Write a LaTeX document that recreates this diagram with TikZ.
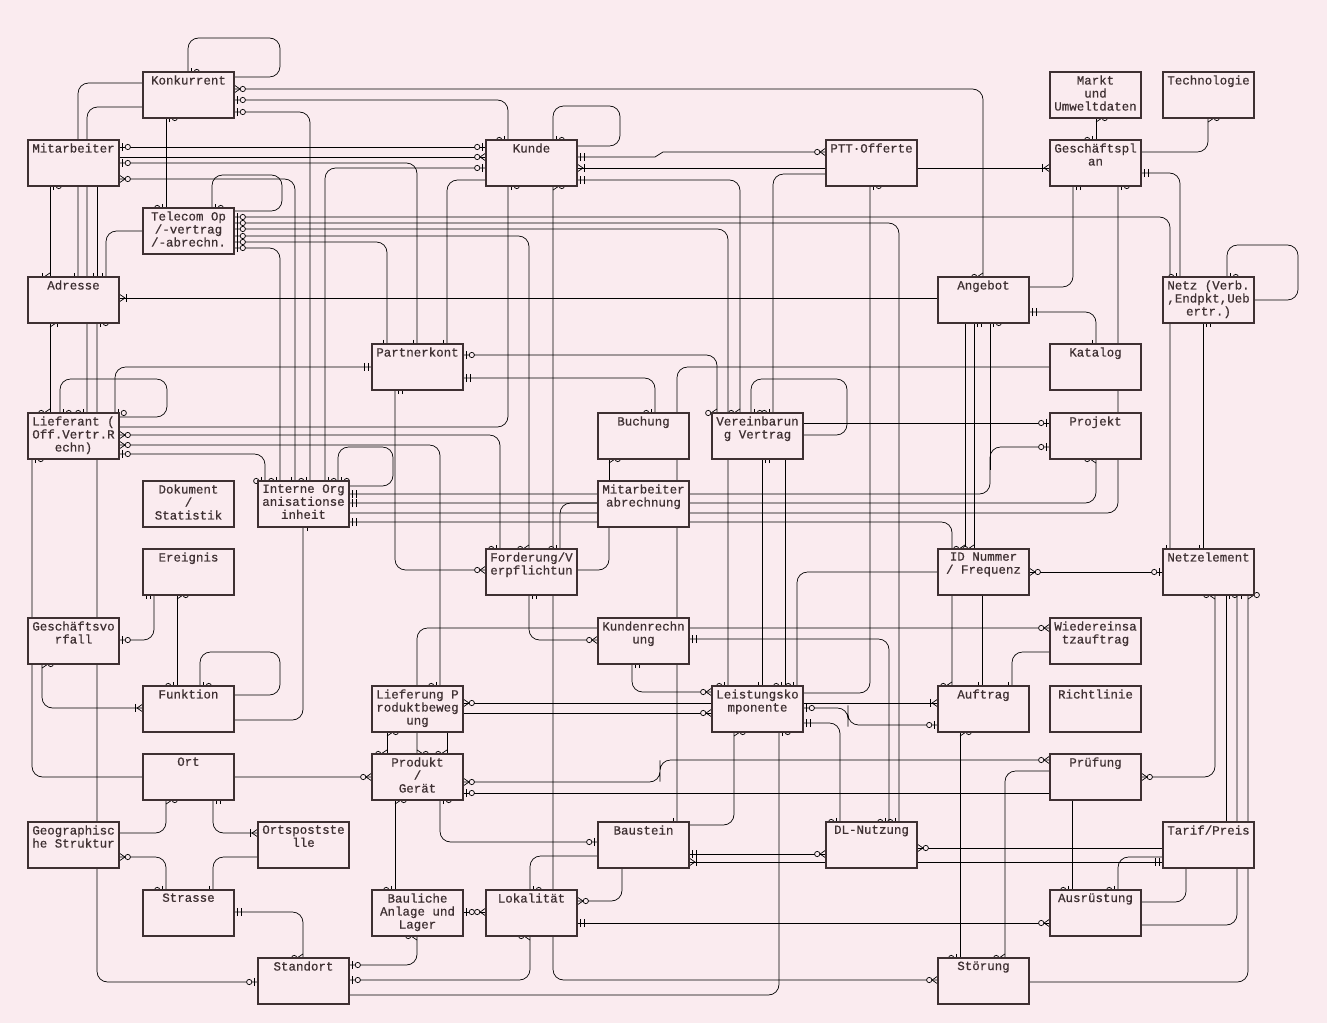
\documentclass[tikz,border=0pt]{standalone}
\usepackage{fontspec}
\setmainfont[FakeBold=0.6]{Liberation Mono}
\usetikzlibrary{decorations.markings}
\definecolor{bg}{RGB}{250,235,239}
\definecolor{ink}{RGB}{62,48,50}
\pgfdeclarelayer{lines}
\pgfsetlayers{lines,main}
\tikzset{
  zm/.pic={\draw[sharp corners] (0,2.3pt)--(-3.4pt,0)--(0,-2.3pt); \draw[fill=bg] (-5pt,0) circle[radius=1.5pt];},
  zo/.pic={\draw (-2.1pt,2.3pt)--(-2.1pt,-2.3pt); \draw[fill=bg] (-5pt,0) circle[radius=1.5pt];},
  oo/.pic={\draw (-2.1pt,2.3pt)--(-2.1pt,-2.3pt); \draw (-4.1pt,2.3pt)--(-4.1pt,-2.3pt);},
  om/.pic={\draw[sharp corners] (0,2.3pt)--(-3.4pt,0)--(0,-2.3pt); \draw (-4.1pt,2.3pt)--(-4.1pt,-2.3pt);},
  one/.pic={\draw (-2.3pt,2.3pt)--(-2.3pt,-2.3pt);},
  st/.style={postaction={decorate,decoration={markings,mark=at position 0 with {\pic[rotate=180] at (0,0) {#1};}}}},
  en/.style={postaction={decorate,decoration={markings,mark=at position 1 with {\pic at (0,0) {#1};}}}},
  box/.style={draw, fill=bg, line width=0.85pt, minimum width=51.8pt, minimum height=26.2pt, inner sep=0pt, outer sep=0pt},
  lbl/.style={anchor=north, align=center, inner sep=1.6pt, font=\fontsize{7.1}{7.4}\selectfont},
  cn/.style={rounded corners=6pt},
}
\newcommand\erbox[4]{\node[box,label={[lbl]north:{#4}}] (#1) at (#2,#3) {};}
\begin{document}
\begin{tikzpicture}[x=0.02cm,y=-0.02cm,color=ink,line width=0.75pt]
\useasboundingbox (0,0) rectangle (1327,1023);
% boxes
\erbox{konk}{188.5}{95}{Konkurrent}
\erbox{mitarb}{73.5}{163}{Mitarbeiter}
\erbox{kunde}{531.5}{163}{Kunde}
\erbox{ptt}{871.5}{163}{PTT·Offerte}
\erbox{markt}{1095.5}{95}{Markt\\und\\Umweltdaten}
\erbox{tech}{1208.5}{95}{Technologie}
\erbox{gplan}{1095.5}{163}{Geschäftspl\\an}
\erbox{telecom}{188.5}{231}{Telecom Op\\/-vertrag\\/-abrechn.}
\erbox{adresse}{73.5}{300}{Adresse}
\erbox{angebot}{983.5}{300}{Angebot}
\erbox{netz}{1208.5}{300}{Netz (Verb.\\,Endpkt,Ueb\\ertr.)}
\erbox{partner}{417.5}{367}{Partnerkont}
\erbox{katalog}{1095.5}{367}{Katalog}
\erbox{lieferant}{73.5}{436}{Lieferant (\\Off.Vertr.R\\echn)}
\erbox{buchung}{643.5}{436}{Buchung}
\erbox{vereinb}{757.5}{436}{Vereinbarun\\g Vertrag}
\erbox{projekt}{1095.5}{436}{Projekt}
\erbox{dokument}{188.5}{504}{Dokument\\/\\Statistik}
\erbox{interne}{303.5}{504}{Interne Org\\anisationse\\inheit}
\erbox{mabr}{643.5}{504}{Mitarbeiter\\abrechnung}
\erbox{ereignis}{188.5}{572}{Ereignis}
\erbox{forderung}{531.5}{572}{Forderung/V\\erpflichtun}
\erbox{idnr}{983.5}{572}{ID Nummer\\/ Frequenz}
\erbox{netzel}{1208.5}{572}{Netzelement}
\erbox{gvorfall}{73.5}{641}{Geschäftsvo\\rfall}
\erbox{kundenr}{643.5}{641}{Kundenrechn\\ung}
\erbox{wieder}{1095.5}{641}{Wiedereinsa\\tzauftrag}
\erbox{funktion}{188.5}{709}{Funktion}
\erbox{lieferung}{417.5}{709}{Lieferung P\\roduktbeweg\\ung}
\erbox{leistung}{757.5}{709}{Leistungsko\\mponente}
\erbox{auftrag}{983.5}{709}{Auftrag}
\erbox{richtlinie}{1095.5}{709}{Richtlinie}
\erbox{ort}{188.5}{777}{Ort}
\erbox{produkt}{417.5}{777}{Produkt\\/\\Gerät}
\erbox{pruefung}{1095.5}{777}{Prüfung}
\erbox{geo}{73.5}{845}{Geographisc\\he Struktur}
\erbox{ortspost}{303.5}{845}{Ortspostste\\lle}
\erbox{baustein}{643.5}{845}{Baustein}
\erbox{dl}{871.5}{845}{DL-Nutzung}
\erbox{tarif}{1208.5}{845}{Tarif/Preis}
\erbox{strasse}{188.5}{913}{Strasse}
\erbox{bauliche}{417.5}{913}{Bauliche\\Anlage und\\Lager}
\erbox{lokal}{531.5}{913}{Lokalität}
\erbox{ausr}{1095.5}{913}{Ausrüstung}
\erbox{standort}{303.5}{981}{Standort}
\erbox{stoerung}{983.5}{981}{Störung}
\begin{pgfonlayer}{lines}
\fill[bg] (0,0) rectangle (1327,1023);
\begin{scope}[cn]
% Konkurrent
\draw[st=zo,en=zm] (konk.north -| 188,0) |- (280,38) |- (konk.east |- 0,77);
\draw[st=zm,en=zm] (konk.east |- 0,89) -| (angebot.north -| 983,0);
\draw[st=zo,en=zo] (konk.east |- 0,100) -| (kunde.north -| 508,0);
\draw[st=zo,en=zo] (konk.east |- 0,112) -| (interne.north -| 310,0);
\draw[st=zm,en=one] (konk.west |- 0,83) -| (adresse.north -| 78,0);
\draw[st=zo,en=zo] (konk.west |- 0,107) -| (lieferant.north -| 87,0);
\draw[st=zo,en=zo] (konk.south -| 166,0) -- (telecom.north -| 166,0);
% Mitarbeiter
\draw[st=zo,en=zo] (mitarb.east |- 0,147) -- (kunde.west |- 0,147);
\draw[en=zm] (mitarb.east |- 0,157) -- (kunde.west |- 0,157);
\draw[st=zo,en=one] (mitarb.east |- 0,163) -| (partner.north -| 417,0);
\draw[st=zm,en=one] (mitarb.east |- 0,179) -| (interne.north -| 295,0);
\draw[st=zo,en=om] (mitarb.south -| 50,0) -- (adresse.north -| 50,0);
\draw[en=one] (mitarb.south -| 97,0) -- (adresse.north -| 97,0);
% Telecom
\draw[st=zo,en=zo] (telecom.north -| 212,0) |- (282,175) |- (telecom.east |- 0,211);
\draw[st=zm,en=one] (telecom.west |- 0,231) -| (adresse.north -| 106,0);
\draw[st=zo,en=one] (telecom.east |- 0,217) -| (netzel.north -| 1170,0);
\draw[st=zo,en=zo] (telecom.east |- 0,223) -| (dl.north -| 899,0);
\draw[st=zo,en=zo] (telecom.east |- 0,229) -| (leistung.north -| 728,0);
\draw[st=zo,en=zm] (telecom.east |- 0,236) -| (forderung.north -| 529,0);
\draw[st=zo,en=one] (telecom.east |- 0,242) -| (partner.north -| 387,0);
\draw[st=zo,en=zo] (telecom.east |- 0,248) -| (interne.north -| 280,0);
% Kunde
\draw[st=zo,en=zm] (kunde.north -| 553,0) |- (620,106) |- (kunde.east |- 0,146);
\draw[st=zo,en=zo] (interne.north -| 325,0) |- (kunde.west |- 0,168);
\draw[st=oo,en=one] (kunde.west |- 0,180) -| (partner.north -| 447,0);
\draw[st=oo,en=zm,sharp corners] (kunde.east |- 0,157) -- (655,157) -- (663,152) -- (ptt.west |- 0,152);
\draw[st=om,en=om] (kunde.east |- 0,168) -- (gplan.west |- 0,168);
\draw[st=oo,en=zm] (kunde.east |- 0,180) -| (vereinb.north -| 740,0);
\draw[st=zo,en=zo] (ptt.west |- 0,174) -| (vereinb.north -| 773,0);
\draw[st=zo,en=zo] (kunde.south -| 508,0) |- (lieferant.east |- 0,427);
\draw[st=zm,en=zm] (kunde.south -| 553,0) |- (stoerung.west |- 0,980);
% Geschaeftsplan / Angebot / Netz
\draw[st=zm,en=zo] (markt.south -| 1096,0) -- (gplan.north -| 1096,0);
\draw[st=zm,en=zm] (tech.south -| 1208,0) |- (gplan.east |- 0,152);
\draw[st=oo,en=zo] (gplan.east |- 0,173) -| (netz.north -| 1180,0);
\draw[st=oo,en=zm] (gplan.south -| 1073,0) |- (angebot.east |- 0,287);
\draw[st=zo,en=zm] (gplan.south -| 1118,0) |- (interne.east |- 0,513);
\draw[st=om] (adresse.east |- 0,298) -- (angebot.west |- 0,298);
\draw[st=oo,en=one] (angebot.east |- 0,312) -| (katalog.north -| 1096,0);
\draw[st=zo,en=zm] (netz.north -| 1227,0) |- (1298,245) |- (netz.east |- 0,300);
\draw[st=oo,en=one] (netz.south -| 1203,0) -- (netzel.north -| 1203,0);
\draw[en=zm] (angebot.south -| 965,0) -- (idnr.north -| 965,0);
\draw[st=oo,en=zm] (angebot.south -| 974,0) -- (idnr.north -| 974,0);
\draw[st=oo,en=zo] (interne.east |- 0,494) -| (990,470) |- (projekt.west |- 0,447);
\draw[st=zo] (angebot.south -| 990,0) -- (990,470);
% Katalog / Lieferant
\draw[st=om,en=one] (katalog.west |- 0,367) -| (baustein.north -| 677,0);
\draw[st=zo,en=oo] (lieferant.north -| 115,0) |- (partner.west |- 0,367);
\draw[st=zo,en=zm] (lieferant.north -| 60,0) |- (167,379) |- (lieferant.east |- 0,417);
\draw[st=om,en=zm] (adresse.south -| 50,0) -- (lieferant.north -| 50,0);
\draw[st=zo,en=zo] (adresse.south -| 97,0) |- (standort.west |- 0,982);
\draw[st=zm,en=zo] (lieferant.east |- 0,435) -| (forderung.north -| 500,0);
\draw[st=zm,en=zo] (lieferant.east |- 0,445) -| (lieferung.north -| 440,0);
\draw[st=zo,en=zo] (lieferant.east |- 0,454) -| (interne.north -| 265,0);
\draw[st=zo,en=zm] (lieferant.south -| 32,0) |- (produkt.west |- 0,777);
% Partnerkont
\draw[st=zo,en=zm] (partner.east |- 0,355) -| (vereinb.north -| 717,0);
\draw[st=oo,en=zo] (partner.east |- 0,378) -| (buchung.north -| 655,0);
\draw[st=oo,en=zm] (partner.south -| 395,0) |- (forderung.west |- 0,570);
% Interne Org
\draw[st=zo,en=zm] (interne.north -| 338,0) |- (393,447) |- (interne.east |- 0,486);
\draw[st=oo,en=zm] (interne.east |- 0,503) -| (projekt.south -| 1096,0);
\draw[st=oo,en=zm] (interne.east |- 0,522) -| (auftrag.north -| 952,0);
\draw[st=one,en=om] (interne.south -| 303,0) |- (funktion.east |- 0,720);
% Buchung / Mitarbeiterabrechnung / Forderung
\draw[st=zm] (buchung.south -| 609,0) -- (mabr.north -| 609,0);
\draw[st=zm,en=zo] (mabr.west |- 0,503) -| (forderung.north -| 560,0);
\draw[en=zm] (mabr.south -| 609,0) |- (forderung.east |- 0,570);
\draw[st=oo,en=zm] (forderung.south -| 529,0) |- (kundenr.west |- 0,640);
\draw[st=zm,en=zm] (produkt.north -| 417,0) |- (wieder.west |- 0,628);
\draw[st=oo,en=zm] (kundenr.south -| 632,0) |- (leistung.west |- 0,692);
\draw[st=oo,en=zo] (kundenr.east |- 0,639) -| (dl.north -| 889,0);
% Vereinbarung / ID
\draw[st=zo,en=zm] (vereinb.north -| 751,0) |- (847,379) |- (vereinb.east |- 0,435);
\draw[en=zo] (vereinb.east |- 0,423) -- (projekt.west |- 0,423);
\draw[st=oo,en=one] (vereinb.south -| 762,0) -- (leistung.north -| 762,0);
\draw[en=zo] (vereinb.south -| 785,0) -- (leistung.north -| 785,0);
\draw[st=zm,en=zo] (idnr.west |- 0,572) -| (leistung.north -| 797,0);
\draw[st=zm,en=zo] (idnr.east |- 0,572) -- (netzel.west |- 0,572);
\draw[en=one] (idnr.south -| 982,0) -- (auftrag.north -| 982,0);
\draw[st=zm,en=one] (wieder.west |- 0,652) -| (auftrag.north -| 1012,0);
\draw[st=zo,en=one] (ptt.south -| 870,0) |- (leistung.east |- 0,693);
% Leistungskomponente
\draw[st=zm,en=om] (lieferung.east |- 0,703) -- (auftrag.west |- 0,703);
\draw[en=zm] (lieferung.east |- 0,713) -- (leistung.west |- 0,713);
\draw[st=zo,en=zo] (leistung.east |- 0,708) -| (848,716) |- (auftrag.west |- 0,725);
\draw[st=oo,en=zo] (leistung.east |- 0,723) -| (dl.north -| 840,0);
\draw[st=zm,en=zo] (leistung.south -| 734,0) |- (baustein.east |- 0,825);
\draw[st=zo,en=zm] (leistung.south -| 779,0) |- (standort.east |- 0,995);
\draw[st=zm,en=zo] (auftrag.south -| 960,0) -- (stoerung.north -| 960,0);
% Produkt / Pruefung / Tarif
\draw[st=zm,en=zm] (produkt.east |- 0,782) -| (660,771) |- (pruefung.west |- 0,760);
\draw[st=zo] (produkt.east |- 0,793) -- (pruefung.west |- 0,793);
\draw[st=zm,en=zm] (pruefung.west |- 0,771) -| (stoerung.north -| 1005,0);
\draw[en=zo] (pruefung.south -| 1072,0) -- (ausr.north -| 1072,0);
\draw[st=zm,en=zm] (pruefung.east |- 0,777) -| (netzel.south -| 1215,0);
\draw[st=zo] (netzel.south -| 1226,0) -- (tarif.north -| 1226,0);
\draw[st=one,en=om] (netzel.south -| 1237,0) |- (ausr.east |- 0,925);
\draw[st=zm,en=zm] (netzel.south -| 1248,0) |- (stoerung.east |- 0,982);
\draw[en=zm] (tarif.south -| 1186,0) |- (ausr.east |- 0,902);
\draw[en=zo] (tarif.west |- 0,857) -| (ausr.north -| 1118,0);
\draw[st=zm] (dl.east |- 0,848) -- (tarif.west |- 0,848);
\draw[st=om,en=oo] (baustein.east |- 0,862) -- (tarif.west |- 0,862);
\draw[st=oo,en=zm] (baustein.east |- 0,854) -- (dl.west |- 0,854);
\draw[st=oo,en=zm] (lokal.east |- 0,923) -- (ausr.west |- 0,923);
\draw[st=zm] (lokal.east |- 0,901) -| (baustein.south -| 622,0);
\draw[st=zo] (lokal.north -| 530,0) |- (baustein.west |- 0,856);
\draw[st=zo,en=zo] (produkt.south -| 440,0) |- (baustein.west |- 0,842);
\draw[st=zm,en=zo] (produkt.south -| 395,0) -- (bauliche.north -| 395,0);
\draw[st=zo,en=zm] (bauliche.east |- 0,912) -- (lokal.west |- 0,912);
\draw[st=zo,en=zm] (standort.east |- 0,965) -| (bauliche.south -| 417,0);
\draw[st=zo,en=zm] (standort.east |- 0,980) -| (lokal.south -| 530,0);
\draw[st=zm,en=zm] (lieferung.south -| 387,0) -- (produkt.north -| 387,0);
\draw[en=zm] (lieferung.south -| 447,0) -- (produkt.north -| 447,0);
% Ort / Geo / Strasse / Funktion
\draw[st=zm,en=zm] (ort.south -| 166,0) |- (geo.east |- 0,833);
\draw[st=oo,en=om] (ort.south -| 213,0) |- (ortspost.west |- 0,833);
\draw[st=zm,en=zo] (geo.east |- 0,857) -| (strasse.north -| 166,0);
\draw[st=oo,en=one] (ortspost.west |- 0,857) -| (strasse.north -| 213,0);
\draw[st=oo,en=zm] (strasse.east |- 0,912) -| (standort.north -| 303,0);
\draw[st=zo,en=oo] (gvorfall.east |- 0,640) -| (ereignis.south -| 154,0);
\draw[st=zm,en=zo] (ereignis.south -| 177,0) -- (funktion.north -| 177,0);
\draw[st=zo,en=zm] (funktion.north -| 200,0) |- (280,652) |- (funktion.east |- 0,695);
\draw[st=zm,en=om] (gvorfall.south -| 42,0) |- (funktion.west |- 0,708);
\end{scope}
\end{pgfonlayer}
\end{tikzpicture}
\end{document}
